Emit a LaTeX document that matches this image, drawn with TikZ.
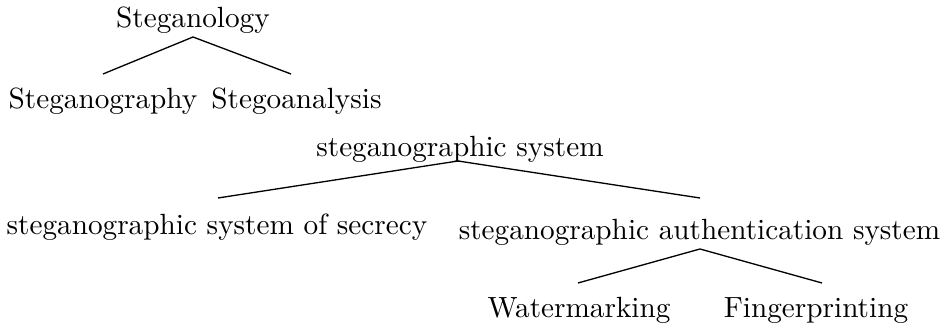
\documentclass[tikz,border=0pt]{standalone}
\begin{document}
\begin{tikzpicture}[x=0.342pt, y=-0.342pt,
  lbl/.style={inner sep=0pt, anchor=base},
  edge/.style={line width=0.45pt}]
\useasboundingbox (0,0) rectangle (941,325);
% first tree
\node[lbl] (root1) at (193,28) {Steganology};
\node[lbl] (sg) at (103,109) {Steganography};
\node[lbl] (sa) at (296.5,109) {Stegoanalysis};
\coordinate (r1) at (193,37);
\coordinate (sgt) at (103,74);
\coordinate (sat) at (291,74);
\draw[edge] (r1) -- (sgt);
\draw[edge] (r1) -- (sat);
% second tree
\node[lbl] (root2) at (460,157) {steganographic system};
\node[lbl] (sec) at (217,235) {steganographic system of secrecy};
\node[lbl] (auth) at (699.5,240) {steganographic authentication system};
\coordinate (r2) at (458,161);
\coordinate (sect) at (218,198);
\coordinate (autht) at (700,198);
\draw[edge] (r2) -- (sect);
\draw[edge] (r2) -- (autht);
% third level
\node[lbl] (wm) at (579,318) {Watermarking};
\node[lbl] (fp) at (816,318) {Fingerprinting};
\coordinate (ab) at (700,249);
\coordinate (wmt) at (578,283);
\coordinate (fpt) at (822,283);
\draw[edge] (ab) -- (wmt);
\draw[edge] (ab) -- (fpt);
\end{tikzpicture}
\end{document}
